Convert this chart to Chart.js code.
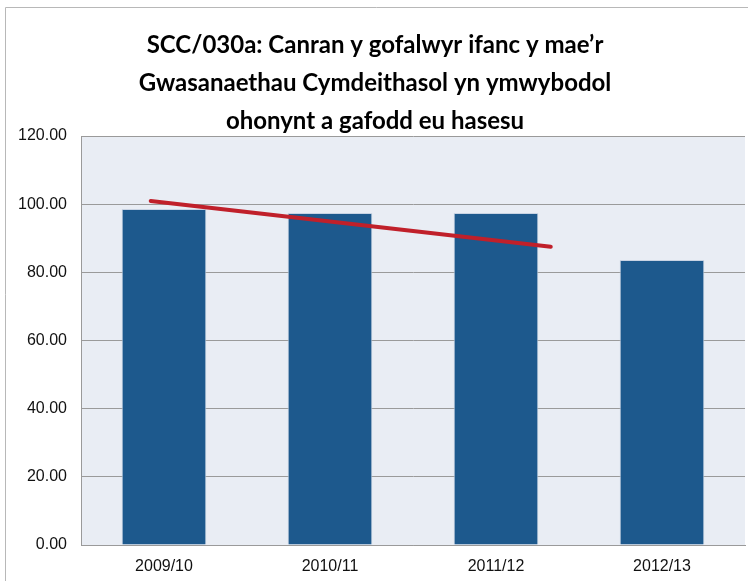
<!DOCTYPE html>
<html>
<head>
<meta charset="utf-8">
<script src="https://cdn.jsdelivr.net/npm/chart.js@4/dist/chart.umd.min.js"></script>
<style>
  html, body { margin: 0; padding: 0; background: #fff; }
  #wrap { width: 748px; height: 581px; position: relative; }
</style>
</head>
<body>
<div id="wrap"><canvas id="chart"></canvas></div>
<script>
const titleLines = [
    "SCC/030a: Canran y gofalwyr ifanc y mae\u2019r",
    "Gwasanaethau Cymdeithasol yn ymwybodol",
    "ohonynt a gafodd eu hasesu"
];
const categories = ["2009/10", "2010/11", "2011/12", "2012/13"];
const values = [98.6, 97.4, 97.4, 83.6];
// trend line end points (x in category units)
const trendX = [-0.08, 2.33];
const trendY = [100.9, 87.5];

const frameAndBackground = {
    id: "frameAndBackground",
    beforeDraw(chart) {
        const { ctx, chartArea } = chart;
        ctx.save();
        // outer chart frame
        ctx.strokeStyle = "#b8b8b8";
        ctx.lineWidth = 1;
        ctx.beginPath();
        ctx.moveTo(5.5, 581);
        ctx.lineTo(5.5, 7.5);
        ctx.lineTo(748, 7.5);
        ctx.stroke();
        // plot area fill
        ctx.fillStyle = "#e9edf4";
        ctx.fillRect(chartArea.left, chartArea.top, chartArea.right - chartArea.left, chartArea.bottom - chartArea.top);
        // title
        ctx.fillStyle = "#000";
        ctx.font = "bold 24px Lato, 'Open Sans', sans-serif";
        ctx.textAlign = "center";
        ctx.textBaseline = "middle";
        titleLines.forEach((line, i) => ctx.fillText(line, 375, 45 + i * 38));
        ctx.restore();
    }
};

const ctx = document.getElementById("chart").getContext("2d");
new Chart(ctx, {
    type: "bar",
    data: {
        labels: categories,
        datasets: [
            {
                data: values,
                backgroundColor: "#1d598d",
                borderColor: "#c8d3e3",
                borderWidth: { top: 1, left: 1, right: 1, bottom: 0 },
                barPercentage: 0.51,
                categoryPercentage: 1,
                grouped: false,
                order: 2
            },
            {
                type: "line",
                data: trendX.map((x, i) => ({ x: x, y: trendY[i] })),
                xAxisID: "x2",
                borderColor: "#c0202a",
                borderWidth: 4,
                borderCapStyle: "round",
                pointRadius: 0,
                fill: false,
                order: 1
            }
        ]
    },
    options: {
        responsive: true,
        maintainAspectRatio: false,
        animation: false,
        layout: { padding: { top: 136, right: 3, left: 0, bottom: 0 } },
        plugins: {
            legend: { display: false },
            tooltip: { enabled: false },
            title: { display: false }
        },
        scales: {
            x: {
                grid: { display: false, drawTicks: false },
                border: { color: "#9a9a9a" },
                ticks: {
                    color: "#111",
                    padding: 12,
                    font: { family: "'Liberation Sans', Arial, sans-serif", size: 16 }
                },
                afterFit(scale) { scale.height = 36; }
            },
            x2: {
                type: "linear",
                display: false,
                offset: false,
                min: -0.5,
                max: 3.5
            },
            y: {
                min: 0,
                max: 120,
                ticks: {
                    stepSize: 20,
                    padding: 14,
                    color: "#111",
                    font: { family: "'Liberation Sans', Arial, sans-serif", size: 16 },
                    callback: v => v.toFixed(2)
                },
                grid: { color: "#9a9a9a", drawTicks: false },
                border: { color: "#9a9a9a" },
                afterFit(scale) { scale.width = 81; }
            }
        }
    },
    plugins: [frameAndBackground]
});
</script>
</body>
</html>
